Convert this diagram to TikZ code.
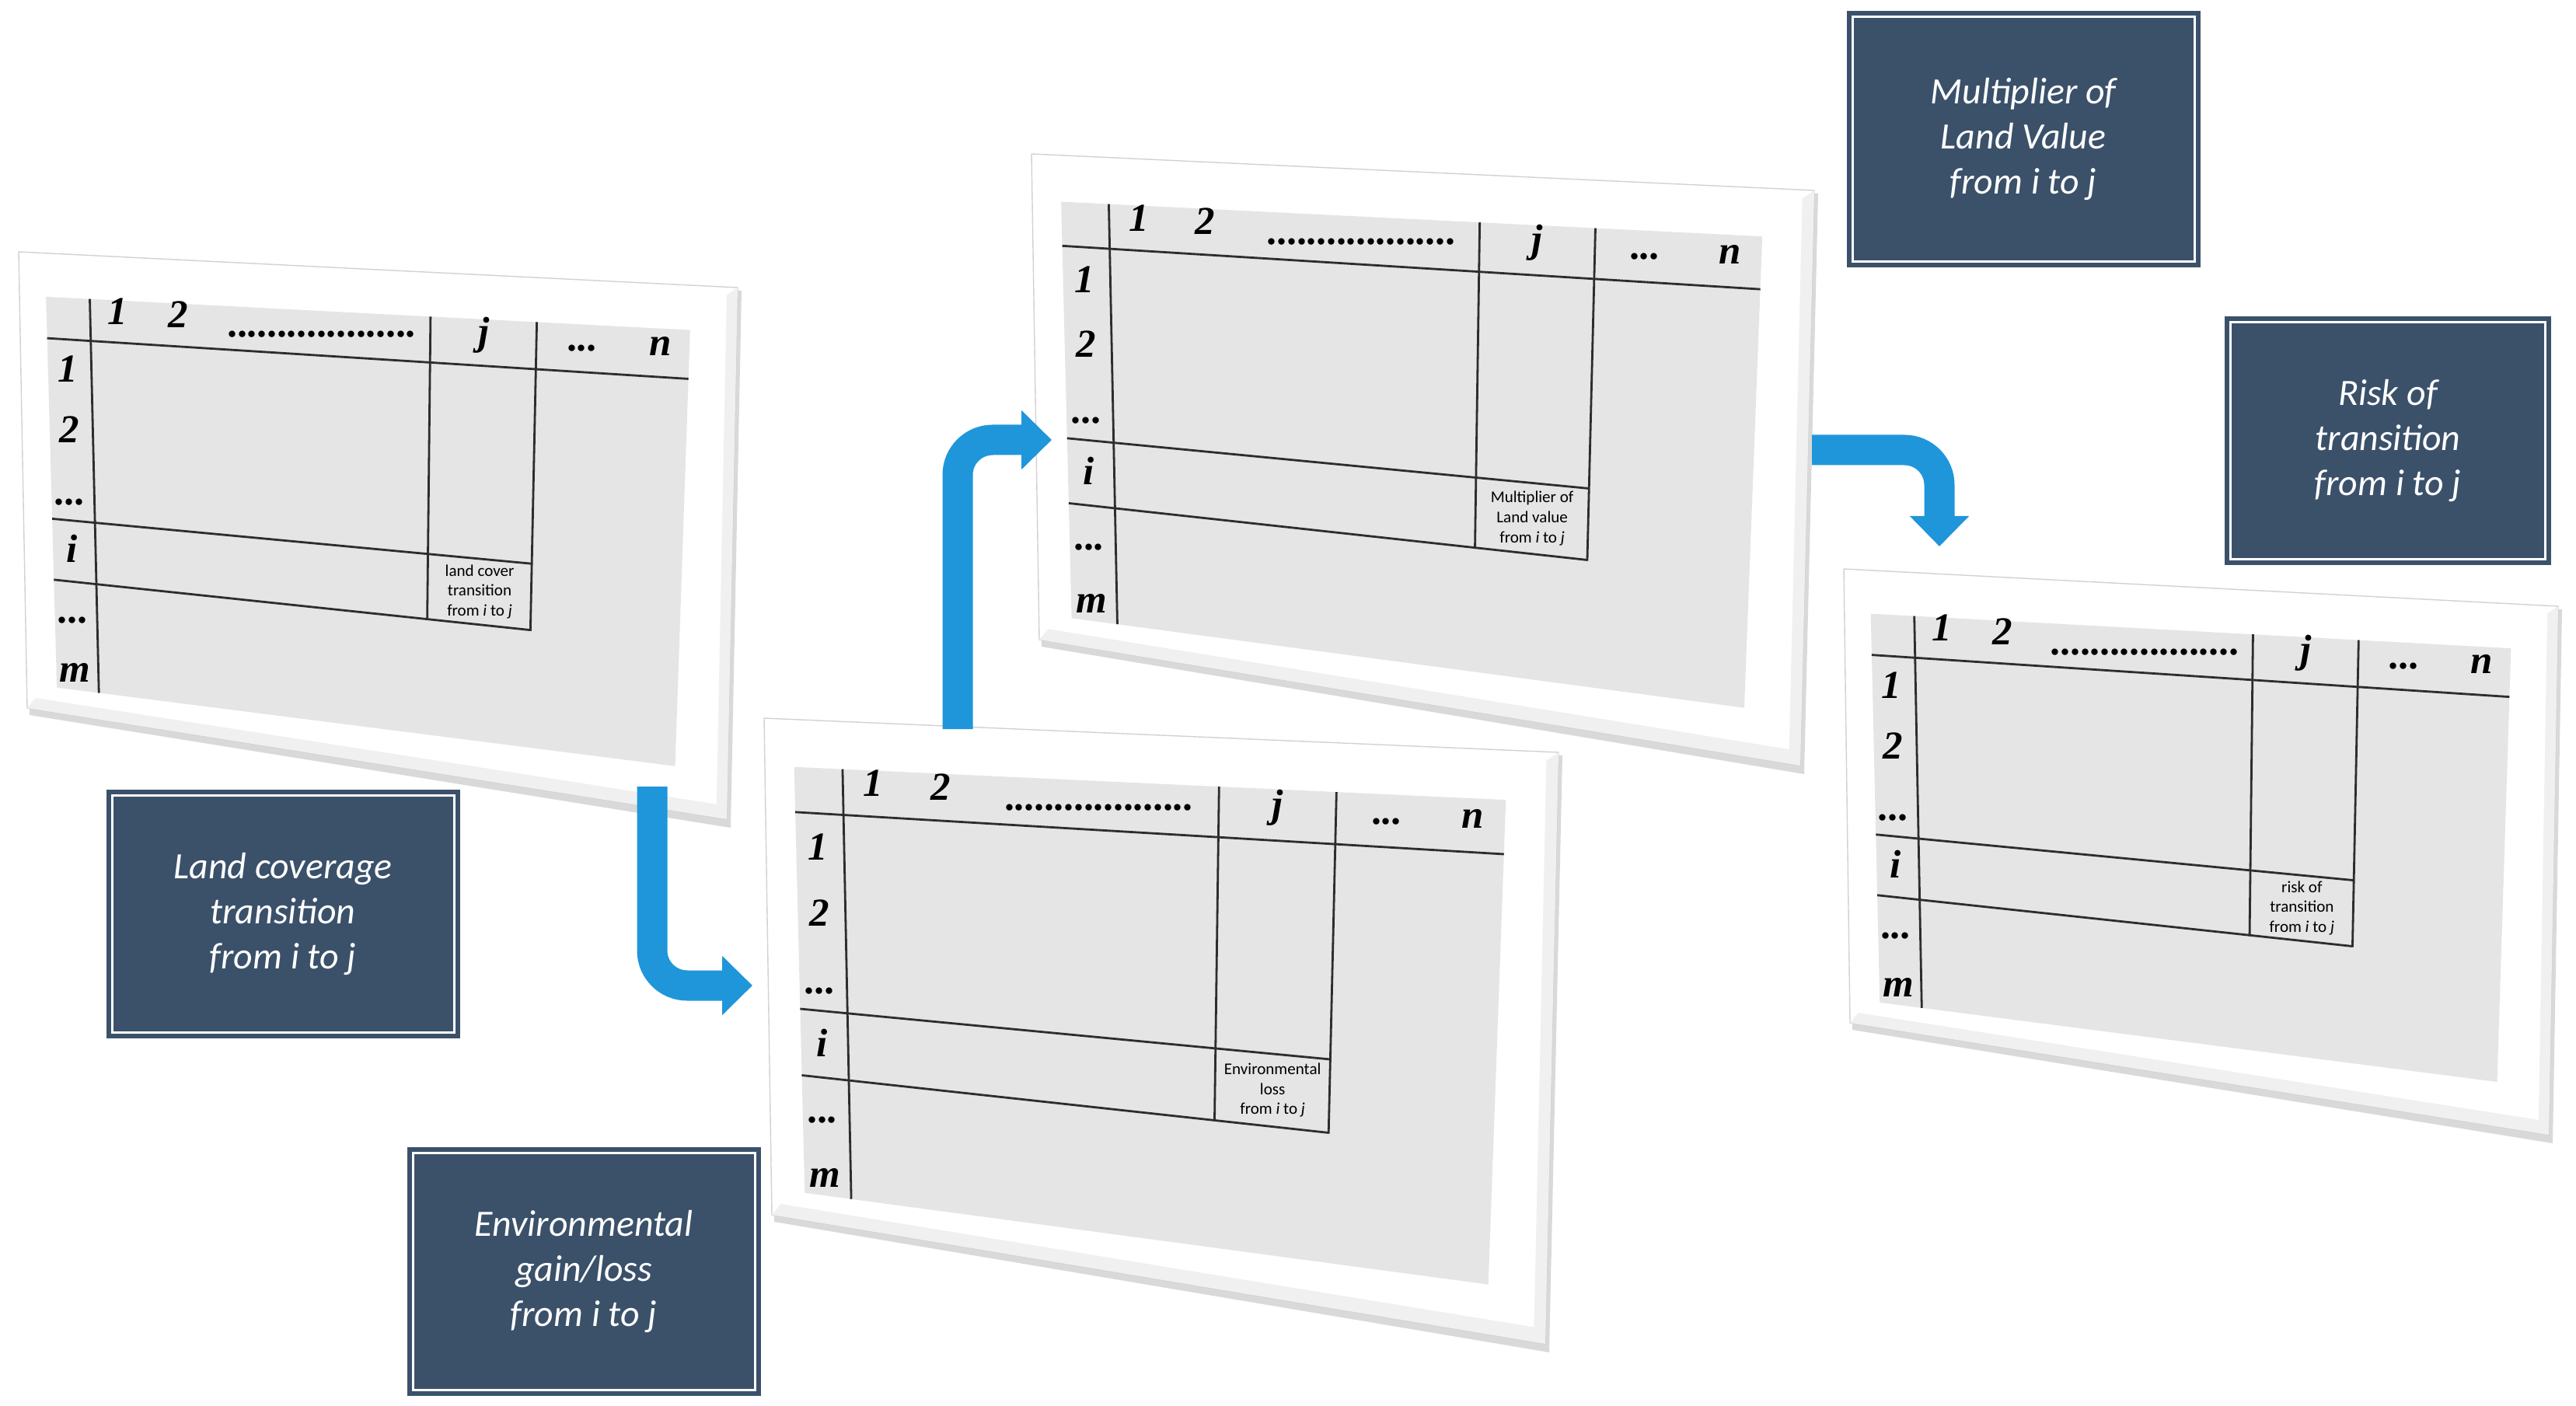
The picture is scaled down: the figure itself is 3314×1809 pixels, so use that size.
\documentclass[tikz,border=0pt]{standalone}
\usepackage{fontspec}
\setmainfont{Liberation Serif}
\newfontfamily\calfont{Carlito}
\usepackage{tikz}
\usetikzlibrary{arrows.meta, calc, positioning}
\definecolor{slate}{RGB}{59,81,106}
\definecolor{flowblue}{RGB}{31,150,218}
\definecolor{cellgray}{RGB}{229,229,229}
% point at (u,v) of quad #1 (corners #1-a..#1-d), named #4
\newcommand{\qpt}[4]{%
  \coordinate (#4) at ($($(#1-a)!#2!(#1-b)$)!#3!($(#1-d)!#2!(#1-c)$)$);%
}
\newcommand{\matpanel}[6]{%
  \coordinate (#1-a) at #2; \coordinate (#1-b) at #3;
  \coordinate (#1-c) at #4; \coordinate (#1-d) at #5;
  \fill[gray!30] ($(#1-a)+(3,4)$) -- ($(#1-b)+(5,4)$) -- ($(#1-c)+(5,11)$) -- ($(#1-d)+(3,9)$) -- cycle;
  \filldraw[fill=white, draw=gray!35] (#1-a) -- (#1-b) -- (#1-c) -- (#1-d) -- cycle;
  % bevel along the bottom and right edges
  \qpt{#1}{0.985}{0.015}{#1-bb}\qpt{#1}{0.985}{0.975}{#1-bc}\qpt{#1}{0.012}{0.975}{#1-bd}%
  \fill[gray!12] (#1-b) -- (#1-c) -- (#1-d) -- (#1-bd) -- (#1-bc) -- (#1-bb) -- cycle;
  \qpt{#1}{0.037}{0.095}{#1i-a}\qpt{#1}{0.935}{0.085}{#1i-b}%
  \qpt{#1}{0.925}{0.915}{#1i-c}\qpt{#1}{0.043}{0.945}{#1i-d}%
  \fill[cellgray] (#1i-a) -- (#1i-b) -- (#1i-c) -- (#1i-d) -- cycle;
  \qpt{#1i}{0}{0.106}{#1-h0}\qpt{#1i}{1}{0.112}{#1-h1}%
  \draw[gridline] (#1-h0) -- (#1-h1);
  \foreach \pu/\pe in {0.068/1, 0.597/0.726, 0.762/0.726} {
    \qpt{#1i}{\pu}{0}{#1-vt}\qpt{#1i}{\pu}{\pe}{#1-vb}
    \draw[gridline] (#1-vt) -- (#1-vb);
  }
  \foreach \pv in {0.568, 0.724} {
    \qpt{#1i}{0}{\pv}{#1-rl}\qpt{#1i}{0.762}{\pv}{#1-rr}
    \draw[gridline] (#1-rl) -- (#1-rr);
  }
  \foreach \pu/\pv/\lab in {0.11/0.06/1, 0.205/0.06/2, 0.43/0.064/{...................},
      0.68/0.06/j, 0.835/0.062/{...}, 0.955/0.062/n, 0.03/0.215/1, 0.03/0.37/2,
      0.03/0.527/{...}, 0.03/0.675/i, 0.03/0.83/{...}, 0.03/0.98/m} {
    \qpt{#1i}{\pu}{\pv}{#1-lab}
    \node[tablbl] at (#1-lab) {\lab};
  }
  \qpt{#1i}{0.68}{0.646}{#1-cell}
  \node[celltxt] (#1-note) at (#1-cell) {#6};
}

\begin{document}
\begin{tikzpicture}[x=0.1mm, y=-0.1mm,
    gridline/.style={draw=gray!35!black, line width=0.28mm},
    tablbl/.style={font=\fontsize{14.5}{16}\selectfont\bfseries\itshape, anchor=base, inner sep=0pt},
    celltxt/.style={font=\calfont\fontsize{6}{7.3}\selectfont, align=center, inner sep=0pt},
    infobox/.style={draw=slate, double=white, double distance=0.3mm, line width=0.6mm,
      fill=slate, text=white, align=center, minimum width=44mm, minimum height=30.5mm,
      font=\calfont\itshape\fontsize{13.6}{16.4}\selectfont},
    flow/.style={draw=flowblue, line width=3.9mm, rounded corners=4.5mm,
      -{Triangle[width=7.4mm, length=3.9mm]}}]
  \useasboundingbox (0,0) rectangle (3314,1809);
  % the four matrices
  \matpanel{p1}{(24,324)}{(949,370)}{(935,1054)}{(35,911)}{land cover\\transition\\from \textit{i} to \textit{j}}
  \matpanel{p3}{(1327,198)}{(2334,245)}{(2316,985)}{(1337,823)}{Multiplier of\\Land value\\from \textit{i} to \textit{j}}
  \matpanel{p2}{(983,924)}{(2005,968)}{(1988,1729)}{(993,1563)}{Environmental\\loss\\from \textit{i} to \textit{j}}
  \matpanel{p4}{(2372,732)}{(3291,780)}{(3279,1460)}{(2380,1316)}{risk of\\transition\\from \textit{i} to \textit{j}}
  % flow between them
  \coordinate (a-top) at (839,1012);
  \coordinate (a-end) at (968,1268);
  \coordinate (b-bot) at (1232,938);
  \coordinate (b-end) at (1353,566);
  \coordinate (c-beg) at (2331,579);
  \coordinate (c-end) at (2495,703);
  \draw[flow] (a-top) |- (a-end);
  \draw[flow] (b-bot) |- (b-end);
  \draw[flow] (c-beg) -| (c-end);
  % captions
  \node[infobox, minimum height=31.5mm] (value) at (2603,179) {Multiplier of\\Land Value\\from i to j};
  \node[infobox, minimum width=40.5mm] (risk) at (3072,567) {Risk of\\transition\\from i to j};
  \node[infobox] (cover) at (364,1176) {Land coverage\\transition\\from i to j};
  \node[infobox] (env) at (751,1636) {Environmental\\gain/loss\\from i to j};
\end{tikzpicture}
\end{document}
